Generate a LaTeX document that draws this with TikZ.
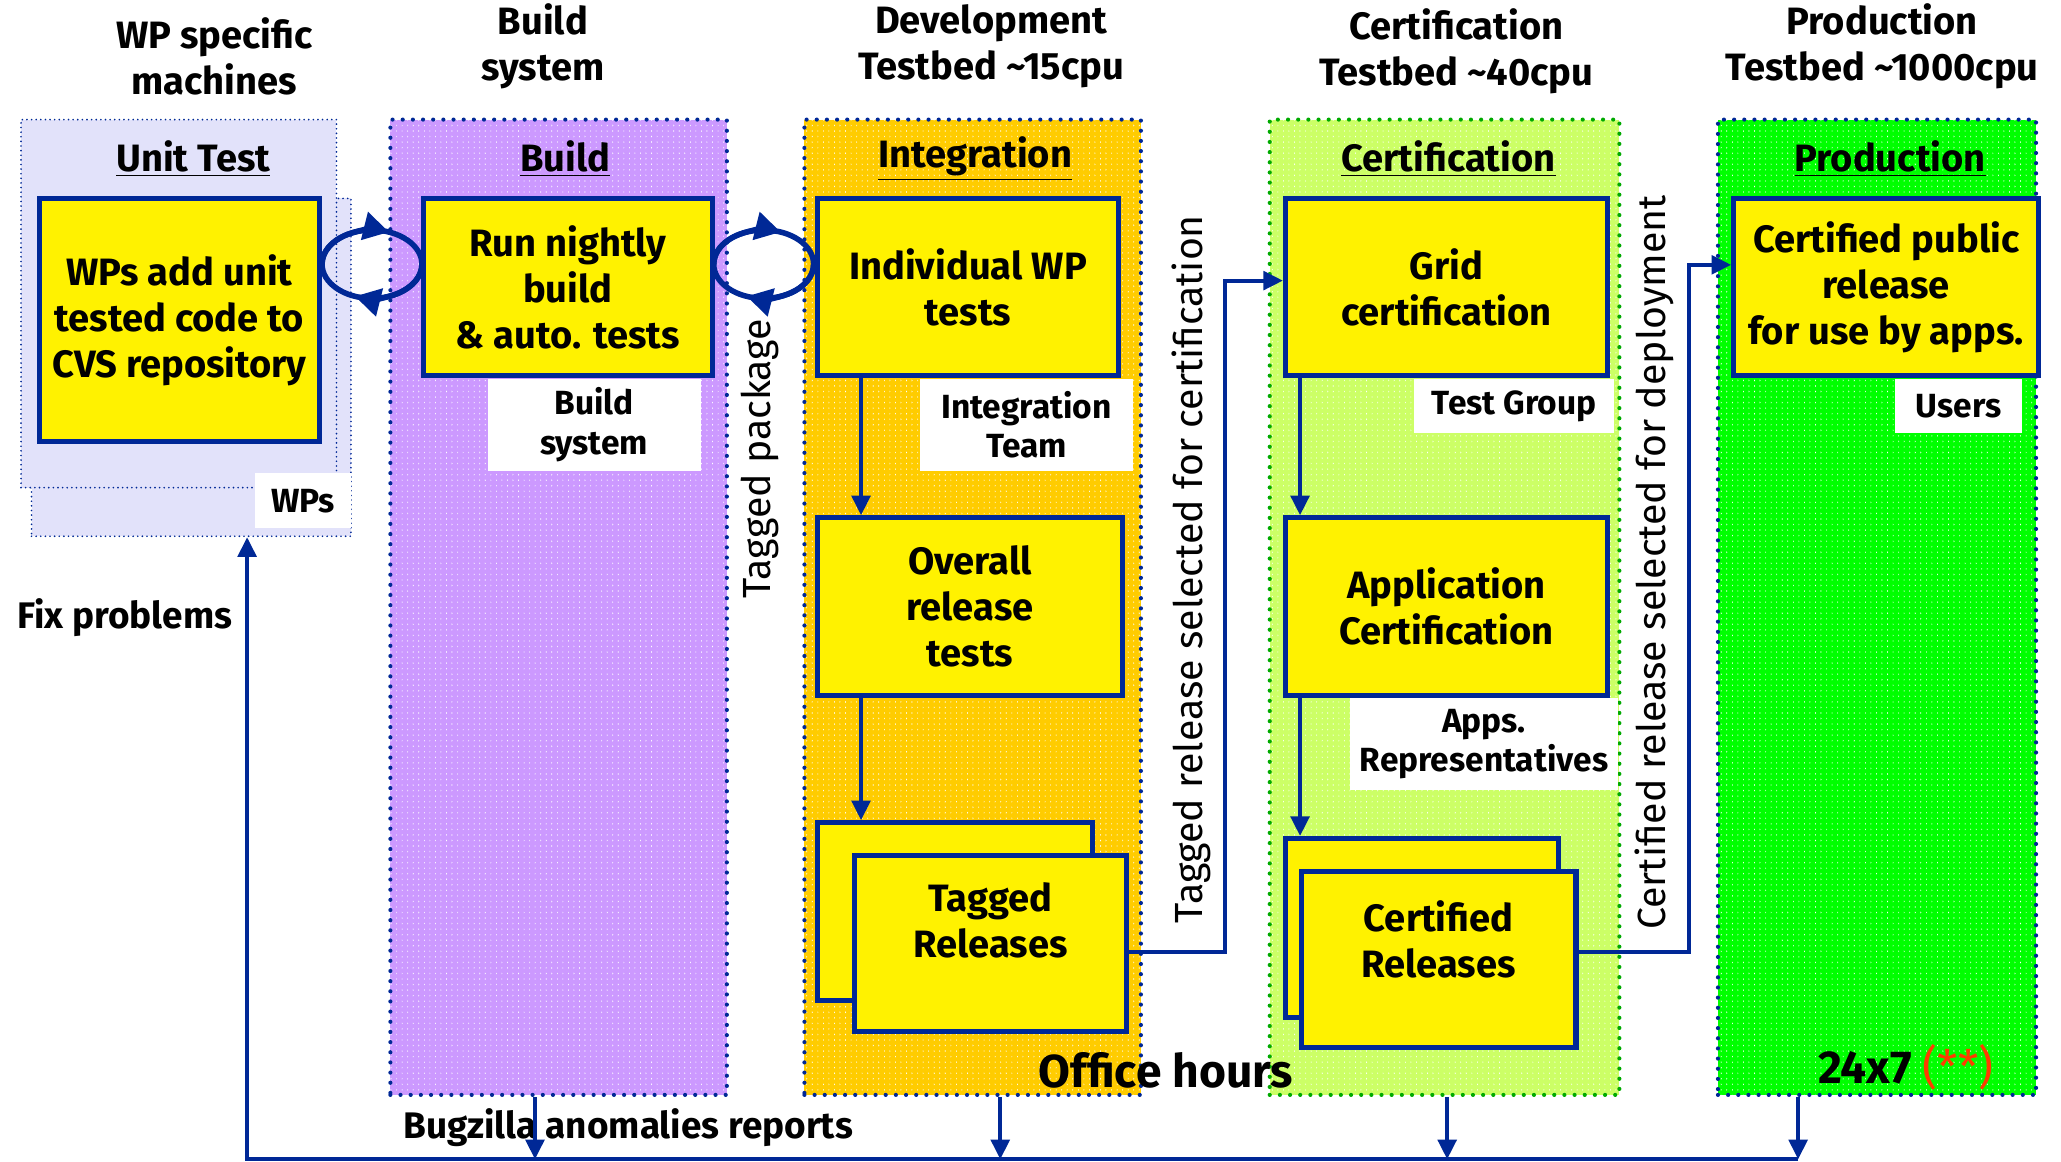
\documentclass[tikz,border=0pt]{standalone}
\usepackage{fontspec}
\setmainfont{Fira Sans}
\usetikzlibrary{arrows.meta, calc, patterns.meta}

\definecolor{navy}{RGB}{0, 40, 150}
\definecolor{unitlav}{RGB}{226, 226, 250}
\definecolor{buildlilac}{RGB}{204, 153, 255}
\definecolor{intorange}{RGB}{255, 204, 0}
\definecolor{certlime}{RGB}{204, 255, 102}
\definecolor{prodgreen}{RGB}{0, 255, 0}
\definecolor{dotgreen}{RGB}{0, 170, 0}
\definecolor{starred}{RGB}{255, 60, 0}

\newcommand{\boxfont}{\fontsize{16.5}{20}\selectfont\bfseries}
\newcommand{\hdrfont}{\fontsize{16.5}{20}\selectfont\bfseries}
\newcommand{\tagfont}{\fontsize{14.5}{17}\selectfont\bfseries}
\newcommand{\sidefont}{\fontsize{17}{20}\selectfont}
\newcommand{\bigfont}{\fontsize{20}{24}\selectfont\bfseries}

\tikzset{
  sz/.style 2 args={minimum width=#1*0.02cm, minimum height=#2*0.02cm},
  panel/.style={preaction={fill=#1}, draw=navy, line width=1.8pt, dash pattern=on 0pt off 4.4pt, line cap=round, inner sep=0pt},
  striped/.style={preaction={pattern={Lines[angle=0, distance=2.4pt, line width=0.75pt]}, pattern color=white}},
  unitbg/.style={fill=unitlav, draw=navy, line width=0.8pt, dash pattern=on 0pt off 2pt, line cap=round, inner sep=0pt},
  stepbox/.style={draw=navy, line width=2.2pt, fill=yellow, align=center, font=\boxfont, inner sep=0pt},
  tag/.style={fill=white, align=center, font=\tagfont, inner sep=0pt},
  hdr/.style={align=center, font=\hdrfont},
  ttl/.style={font=\boxfont},
  sidetext/.style={rotate=90, font=\sidefont},
  flow/.style={draw=navy, line width=1.8pt, -{Triangle[length=8.5pt, width=8pt]}},
  loopline/.style={draw=navy, line width=2.4pt},
  looptip/.style={loopline, -{Triangle[length=11pt, width=12pt]}}
}

\begin{document}
\begin{tikzpicture}[x=0.02cm, y=0.02cm]
  \useasboundingbox (0,0) rectangle (1568,-884);

  % Headers
  \node[hdr] (hdwp) at (163,-43) {WP specific\\machines};
  \node[hdr] (hdbuild) at (413,-35) {Build\\system};
  \node[hdr] (hddev) at (754,-35) {Development\\Testbed \textasciitilde15cpu};
  \node[hdr] (hdcert) at (1108,-39) {Certification\\Testbed \textasciitilde40cpu};
  \node[hdr] (hdprod) at (1432,-35) {Production\\Testbed \textasciitilde1000cpu};

  % Panels
  \node[unitbg, sz={243}{257}] (utshadow) at (145.5,-279.5) {};
  \node[unitbg, sz={240}{280}] (utpanel) at (136,-231) {};
  \node[panel=buildlilac, striped, sz={256}{742}] (buildpanel) at (425,-462) {};
  \node[panel=intorange, striped, sz={256}{742}] (intpanel) at (740,-462) {};
  \node[panel=certlime, striped, draw=dotgreen, sz={266}{742}] (certpanel) at (1099,-462) {};
  \node[panel=prodgreen, striped, sz={242}{742}] (prodpanel) at (1428,-462) {};

  % Panel titles
  \node[ttl] (uttitle) at (147,-121) {\underline{Unit Test}};
  \node[ttl] (buildtitle) at (430,-121) {\underline{Build}};
  \node[ttl] (inttitle) at (742,-121) {\underline{Integration}};
  \node[ttl] (certtitle) at (1102,-121) {\underline{Certification}};
  \node[ttl] (prodtitle) at (1438,-121) {\underline{Production}};

  % Who does it
  \node[tag, sz={73}{42}] (wplbl) at (230.5,-381) {WPs};
  \node[tag, sz={162}{70}] (buildlbl) at (452,-323) {Build\\system};
  \node[tag, sz={162}{70}] (intlbl) at (781,-323) {Integration\\Team};
  \node[tag, sz={152}{41}] (testlbl) at (1152,-309) {Test Group};
  \node[tag, sz={204}{70}] (appslbl) at (1129,-566) {Apps.\\Representatives};
  \node[tag, sz={96}{41}] (userslbl) at (1490,-309) {Users};

  % Steps
  \node[stepbox, sz={213}{185}] (wpbox) at (136.5,-243.5) {WPs add unit\\tested code to\\CVS repository};
  \node[stepbox, sz={220}{135}] (buildbox) at (432,-218.5) {Run nightly\\build\\\& auto. tests};
  \node[stepbox, sz={229}{135}] (indiv) at (736.5,-218.5) {Individual WP\\tests};
  \node[stepbox, sz={232}{135}] (overall) at (738,-461.5) {Overall\\release\\tests};
  \node[stepbox, sz={209}{135}] (tagback) at (726.5,-693.5) {};
  \node[stepbox, sz={207}{134}] (tagfront) at (753.5,-718) {};
  \node[font=\boxfont, align=center] (tagtext) at (753.5,-700) {Tagged\\Releases};
  \node[stepbox, sz={245}{135}] (grid) at (1100.5,-218.5) {Grid\\certification};
  \node[stepbox, sz={245}{135}] (appcert) at (1100.5,-461.5) {Application\\Certification};
  \node[stepbox, sz={208}{136}] (certback) at (1082,-706) {};
  \node[stepbox, sz={209}{134}] (certfront) at (1094.5,-730) {};
  \node[font=\boxfont, align=center] (certtext) at (1094.5,-714.5) {Certified\\Releases};
  \node[stepbox, sz={232}{135}] (prod) at (1435,-218.5) {Certified public\\release\\for use by apps.};

  % Loops between boxes
  \coordinate (loopa) at (283,-201);
  \coordinate (loopb) at (581,-201);
  \foreach \c in {loopa, loopb} {
    \draw[loopline] (\c) ellipse [x radius=38, y radius=26];
    \draw[looptip] ($(\c)+(-38,0)$) arc [start angle=180, end angle=70, x radius=38, y radius=26];
    \draw[looptip] ($(\c)+(38,0)$) arc [start angle=0, end angle=-110, x radius=38, y radius=26];
  }

  % Flow inside the panels
  \draw[flow] ($(indiv.south west)+(35,0)$) -- ($(overall.north west)+(35,0)$);
  \draw[flow] ($(overall.south west)+(35,0)$) -- ($(tagback.north west)+(35,0)$);
  \draw[flow] ($(grid.south west)+(13,0)$) -- ($(appcert.north west)+(13,0)$);
  \draw[flow] ($(appcert.south west)+(13,0)$) -- ($(certback.north west)+(13,0)$);
  \draw[flow] ($(tagfront.east)+(0,-6)$) -- ++(73,0) |- ($(grid.west)+(0,5)$);
  \draw[flow] ($(certfront.east)+(0,6)$) -- ++(84,0) |- ($(prod.west)+(0,17)$);

  % Side texts
  \node[sidetext] (tagpkg) at (578,-349) {Tagged package};
  \node[sidetext] (tagsel) at (906,-433) {Tagged release selected for certification};
  \node[sidetext] (certsel) at (1259,-428) {Certified release selected for deployment};

  % Bottom texts
  \node[font=\bigfont] (office) at (887,-814) {Office hours};
  \node[font=\bigfont] (allday) at (1450,-812) {24x7 \textcolor{starred}{\mdseries(**)}};
  \node[font=\fontsize{16}{19}\selectfont\bfseries] (fix) at (95,-470) {Fix problems};
  \node[font=\fontsize{16}{19}\selectfont\bfseries] (bugz) at (478,-858) {Bugzilla anomalies reports};

  % Feedback
  \coordinate (fbl) at (188,-882);
  \coordinate (fbr) at (1368,-882);
  \draw[flow] (fbr) -- (fbl) -- (utshadow.south -| fbl);
  \foreach \p/\x in {buildpanel/407, intpanel/761, certpanel/1101, prodpanel/1368} {
    \coordinate (fb\p) at (\x,-882);
    \draw[flow] (\p.south -| fb\p) -- (fb\p);
  }
\end{tikzpicture}
\end{document}
